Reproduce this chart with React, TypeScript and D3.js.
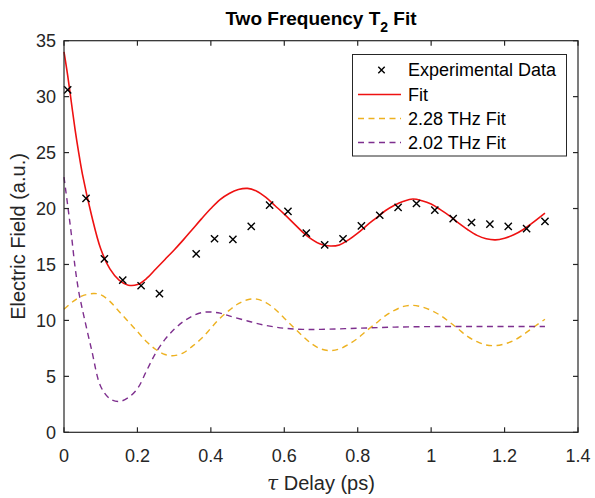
import React from "react";
import * as d3 from "d3";

// ---------- data ----------
const expX = [0.01, 0.06, 0.11, 0.16, 0.21, 0.26, 0.36, 0.41, 0.46, 0.51, 0.56, 0.61, 0.66, 0.71, 0.76, 0.81, 0.86, 0.91, 0.96, 1.01, 1.06, 1.11, 1.16, 1.21, 1.26, 1.31];
const expY = [30.6, 20.9, 15.5, 13.6, 13.1, 12.4, 15.95, 17.3, 17.25, 18.4, 20.3, 19.75, 17.8, 16.75, 17.3, 18.45, 19.4, 20.1, 20.45, 19.85, 19.1, 18.75, 18.6, 18.4, 18.2, 18.85];

const fitX = [0, 0.01, 0.02, 0.03, 0.04, 0.05, 0.075, 0.1, 0.125, 0.15, 0.175, 0.2, 0.225, 0.25, 0.275, 0.3, 0.325, 0.35, 0.375, 0.4, 0.425, 0.45, 0.475, 0.5, 0.525, 0.55, 0.575, 0.6, 0.625, 0.65, 0.675, 0.7, 0.725, 0.75, 0.775, 0.8, 0.825, 0.85, 0.875, 0.9, 0.925, 0.95, 0.975, 1.0, 1.025, 1.05, 1.075, 1.1, 1.125, 1.15, 1.175, 1.2, 1.225, 1.25, 1.275, 1.31];
const fitY = [34.0, 31.9, 29.5, 27.1, 25.0, 23.1, 19.4, 16.4, 14.6, 13.6, 13.15, 13.2, 13.75, 14.6, 15.45, 16.3, 17.2, 18.15, 19.1, 20.0, 20.8, 21.35, 21.7, 21.8, 21.55, 21.0, 20.25, 19.5, 18.7, 17.9, 17.25, 16.8, 16.65, 16.75, 17.2, 17.8, 18.5, 19.15, 19.8, 20.3, 20.65, 20.85, 20.7, 20.4, 19.9, 19.35, 18.7, 18.1, 17.6, 17.3, 17.2, 17.35, 17.65, 18.1, 18.7, 19.6];

const f228X = [0, 0.025, 0.05, 0.08, 0.1, 0.125, 0.15, 0.175, 0.2, 0.225, 0.25, 0.275, 0.3, 0.325, 0.35, 0.375, 0.4, 0.425, 0.45, 0.475, 0.5, 0.525, 0.55, 0.575, 0.6, 0.625, 0.65, 0.675, 0.7, 0.725, 0.75, 0.775, 0.8, 0.825, 0.85, 0.875, 0.9, 0.925, 0.95, 0.975, 1.0, 1.025, 1.05, 1.075, 1.1, 1.125, 1.15, 1.175, 1.2, 1.225, 1.25, 1.275, 1.31];
const f228Y = [11.0, 11.7, 12.2, 12.4, 12.3, 11.7, 10.8, 9.9, 9.0, 8.1, 7.4, 6.95, 6.85, 7.1, 7.7, 8.4, 9.3, 10.2, 10.9, 11.5, 11.85, 11.9, 11.6, 11.0, 10.2, 9.4, 8.6, 7.9, 7.45, 7.3, 7.45, 7.85, 8.4, 9.1, 9.75, 10.4, 10.9, 11.25, 11.35, 11.2, 10.9, 10.45, 9.85, 9.2, 8.55, 8.1, 7.8, 7.75, 7.9, 8.2, 8.7, 9.3, 10.1];

const f202X = [0, 0.01, 0.02, 0.03, 0.04, 0.05, 0.075, 0.1, 0.125, 0.15, 0.175, 0.2, 0.225, 0.25, 0.275, 0.3, 0.325, 0.35, 0.375, 0.4, 0.425, 0.45, 0.5, 0.55, 0.6, 0.65, 0.7, 0.8, 0.9, 1.0, 1.1, 1.2, 1.31];
const f202Y = [22.8, 20.3, 17.7, 14.8, 12.6, 11.0, 7.4, 4.1, 3.0, 2.75, 3.1, 3.9, 5.5, 7.1, 8.3, 9.2, 9.9, 10.4, 10.7, 10.75, 10.65, 10.4, 9.95, 9.55, 9.3, 9.2, 9.2, 9.3, 9.4, 9.45, 9.45, 9.45, 9.45];

const xTicks = [0, 0.2, 0.4, 0.6, 0.8, 1, 1.2, 1.4];
const yTicks = [0, 5, 10, 15, 20, 25, 30, 35];

const legendLabels = ["Experimental Data", "Fit", "2.28 THz Fit", "2.02 THz Fit"];

// ---------- styles ----------
const W = 595, H = 498;
const L = 64, R = 578, T = 40.7, B = 432.3;
const FONT = "'Liberation Sans', Arial, sans-serif";
const AX = "#262626";
const RED = "#ee1111";
const YEL = "#EDB120";
const PUR = "#7E2F8E";

export default function App() {
  const x = d3.scaleLinear().domain([0, 1.4]).range([L, R]);
  const y = d3.scaleLinear().domain([0, 35]).range([B, T]);
  const line = d3
    .line<[number, number]>()
    .x((d) => x(d[0]))
    .y((d) => y(d[1]))
    .curve(d3.curveCatmullRom.alpha(0.5));
  const zip = (a: number[], b: number[]) => a.map((v, i) => [v, b[i]] as [number, number]);

  const tick = 5;
  const cross = (cx: number, cy: number, s: number, key: any) => (
    <path key={key} d={`M${cx - s},${cy - s}L${cx + s},${cy + s}M${cx - s},${cy + s}L${cx + s},${cy - s}`} stroke="#000" strokeWidth={1.4} fill="none" />
  );

  const legY = [70, 94.5, 118.5, 142.5];

  return (
    <svg width={W} height={H} style={{ position: "absolute", left: 0, top: 0, background: "#fff" }} fontFamily={FONT}>
      <rect x={0} y={0} width={W} height={H} fill="#fff" />
      {/* title */}
      <text x={(L + R) / 2} y={25} textAnchor="middle" fontSize={19} fontWeight="bold" fill="#000">
        Two Frequency T
        <tspan fontSize={14} dy={7}>2</tspan>
        <tspan dy={-7}> Fit</tspan>
      </text>

      {/* curves */}
      <path d={line(zip(f228X, f228Y)) || ""} fill="none" stroke={YEL} strokeWidth={1.4} strokeDasharray="6,4.5" />
      <path d={line(zip(f202X, f202Y)) || ""} fill="none" stroke={PUR} strokeWidth={1.4} strokeDasharray="6,4.5" />
      <path d={line(zip(fitX, fitY)) || ""} fill="none" stroke={RED} strokeWidth={1.6} />
      {expX.map((v, i) => cross(x(v), y(expY[i]), 3.6, i))}

      {/* axes box */}
      <rect x={L} y={T} width={R - L} height={B - T} fill="none" stroke={AX} strokeWidth={1.2} />
      {xTicks.map((t, i) => (
        <g key={"x" + i}>
          <line x1={x(t)} x2={x(t)} y1={B} y2={B - tick} stroke={AX} strokeWidth={1.2} />
          <line x1={x(t)} x2={x(t)} y1={T} y2={T + tick} stroke={AX} strokeWidth={1.2} />
          <text x={x(t)} y={462} textAnchor="middle" fontSize={18} fill={AX}>{String(t)}</text>
        </g>
      ))}
      {yTicks.map((t, i) => (
        <g key={"y" + i}>
          <line x1={L} x2={L + tick} y1={y(t)} y2={y(t)} stroke={AX} strokeWidth={1.2} />
          <line x1={R} x2={R - tick} y1={y(t)} y2={y(t)} stroke={AX} strokeWidth={1.2} />
          <text x={56} y={y(t) + 6.5} textAnchor="end" fontSize={18} fill={AX}>{String(t)}</text>
        </g>
      ))}

      {/* axis labels */}
      <text x={(L + R) / 2} y={490} textAnchor="middle" fontSize={20} fill={AX}>
        <tspan fontFamily="'DejaVu Serif', serif" fontStyle="italic">τ</tspan> Delay (ps)
      </text>
      <text transform={`translate(25,${(T + B) / 2}) rotate(-90)`} textAnchor="middle" fontSize={20} fill={AX}>
        Electric Field (a.u.)
      </text>

      {/* legend */}
      <rect x={352.5} y={54.5} width={214} height={101.5} fill="#fff" stroke={AX} strokeWidth={1} />
      {cross(381.5, legY[0], 3.2, "leg0")}
      <line x1={358} x2={401} y1={legY[1]} y2={legY[1]} stroke={RED} strokeWidth={1.6} />
      <line x1={358} x2={401} y1={legY[2]} y2={legY[2]} stroke={YEL} strokeWidth={1.4} strokeDasharray="6,4.5" />
      <line x1={358} x2={401} y1={legY[3]} y2={legY[3]} stroke={PUR} strokeWidth={1.4} strokeDasharray="6,4.5" />
      {legendLabels.map((lab, i) => (
        <text key={lab} x={408} y={legY[i] + 6.3} fontSize={18} fill="#000">{lab}</text>
      ))}
    </svg>
  );
}
